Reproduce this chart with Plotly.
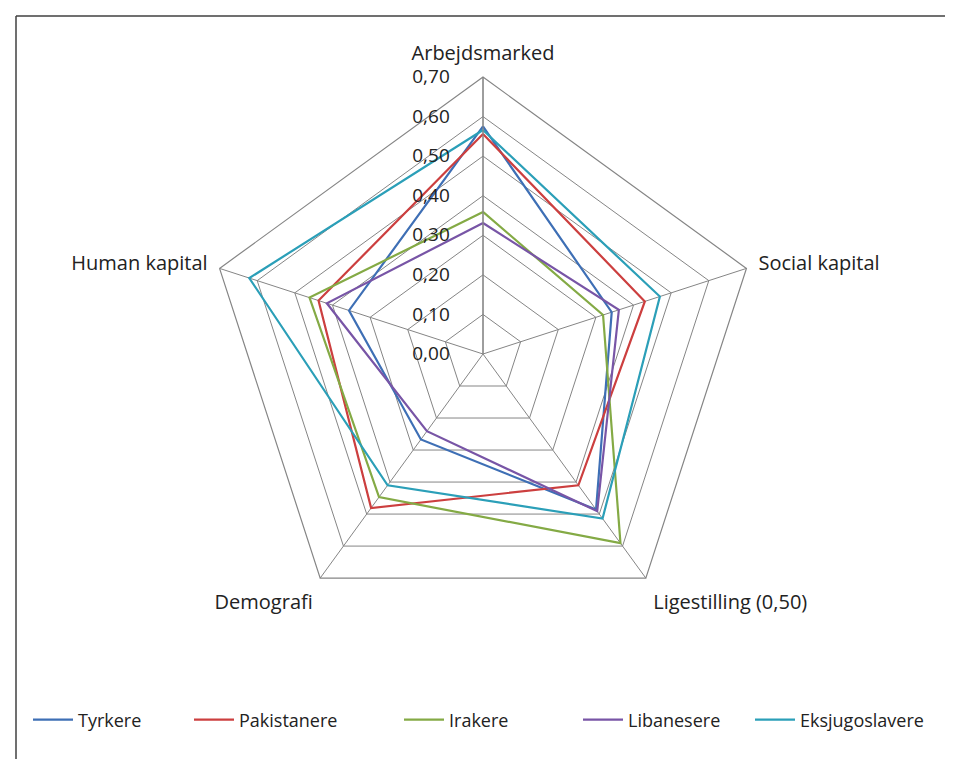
import plotly.graph_objects as go

categories = ["Arbejdsmarked", "Social kapital", "Ligestilling (0,50)", "Demografi", "Human kapital"]
series_names = ["Tyrkere", "Pakistanere", "Irakere", "Libanesere", "Eksjugoslavere"]
tyrkere = [0.575, 0.342, 0.486, 0.267, 0.356]
pakistanere = [0.556, 0.430, 0.410, 0.481, 0.437]
irakere = [0.359, 0.319, 0.591, 0.447, 0.461]
libanesere = [0.331, 0.361, 0.491, 0.241, 0.415]
eksjugoslavere = [0.566, 0.470, 0.514, 0.410, 0.621]
colors = ["#3E6FB5", "#CC3F3F", "#84AA45", "#7855A6", "#2B9FB8"]
tick_vals = [0.0, 0.1, 0.2, 0.3, 0.4, 0.5, 0.6, 0.7]
legend_widths = [106, 155, 124, 117, 125]

all_series = [tyrkere, pakistanere, irakere, libanesere, eksjugoslavere]

fig = go.Figure()
for name, vals, col, lw in zip(series_names, all_series, colors, legend_widths):
    fig.add_trace(go.Scatterpolar(
        r=vals + [vals[0]],
        theta=categories + [categories[0]],
        mode="lines",
        name=name,
        line=dict(color=col, width=2.2),
        legendwidth=lw,
    ))

W, H = 953, 759
cx, cy, R = 475, 346, 277
font = "Open Sans"
fig.update_layout(
    width=W, height=H,
    margin=dict(l=0, r=0, t=0, b=0),
    paper_bgcolor="white",
    plot_bgcolor="white",
    separators=", ",
    font=dict(family=font, size=20, color="#222222"),
    polar=dict(
        domain=dict(x=[(cx - R) / W, (cx + R) / W], y=[1 - (cy + R) / H, 1 - (cy - R) / H]),
        gridshape="linear",
        bgcolor="white",
        radialaxis=dict(
            range=[0, 0.7], tickvals=tick_vals, tickformat=".2f",
            angle=90, tickangle=90, side="counterclockwise",
            showline=True, linecolor="#858585", linewidth=1.2,
            gridcolor="#858585", gridwidth=1.2,
            ticks="outside", ticklen=26, tickcolor="rgba(0,0,0,0)",
            tickfont=dict(size=19, color="#222222"),
        ),
        angularaxis=dict(
            rotation=90, direction="clockwise",
            showline=True, linecolor="#858585", linewidth=1.2,
            gridcolor="#858585", gridwidth=1.2,
            ticks="outside", ticklen=8, tickcolor="rgba(0,0,0,0)",
            tickfont=dict(size=20, color="#222222"),
        ),
    ),
    legend=dict(
        orientation="h", x=20 / W, xanchor="left", y=1 - 712 / H, yanchor="middle",
        font=dict(size=18, color="#222222"), itemwidth=40,
    ),
    shapes=[
        dict(type="line", xref="paper", yref="paper", x0=8 / W, x1=1, y0=1 - 8 / H, y1=1 - 8 / H,
             line=dict(color="#404040", width=1.5)),
        dict(type="line", xref="paper", yref="paper", x0=8 / W, x1=8 / W, y0=0, y1=1 - 8 / H,
             line=dict(color="#404040", width=1.5)),
    ],
)

fig.write_html("out.html")
